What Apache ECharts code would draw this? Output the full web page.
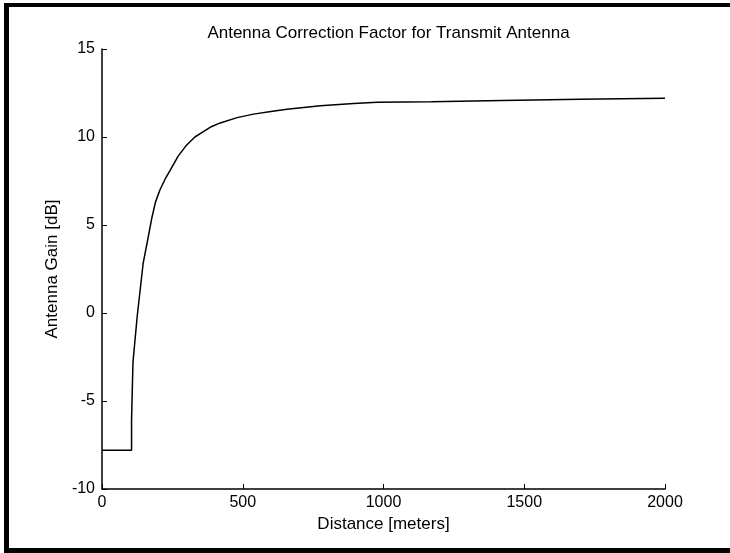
<!DOCTYPE html>
<html>
<head>
<meta charset="utf-8">
<script src="https://cdn.jsdelivr.net/npm/echarts@6/dist/echarts.min.js"></script>
<style>
html,body{margin:0;padding:0;background:#fff;}
#c{width:730px;height:553px;}
</style>
</head>
<body>
<div id="c"></div>
<script>
const titleText = "Antenna Correction Factor for Transmit Antenna";
const xName = "Distance [meters]";
const yName = "Antenna Gain [dB]";
const distance = [0, 105, 105, 110, 125, 146, 164, 177, 190, 206, 224, 242, 270, 301, 330, 360, 390, 420, 480, 538, 600, 657, 776, 894, 978, 1170, 1420, 1700, 2000];
const gain = [-7.8, -7.8, -6.1, -2.8, -0.2, 2.8, 4.3, 5.4, 6.3, 7.0, 7.6, 8.1, 8.9, 9.55, 10.0, 10.3, 10.6, 10.8, 11.1, 11.3, 11.45, 11.57, 11.78, 11.91, 11.97, 12.0, 12.08, 12.15, 12.2];
const xTicks = [0, 500, 1000, 1500, 2000];
const yTicks = [-10, -5, 0, 5, 10, 15];

const data = distance.map((d, i) => [d, gain[i]]);
const font = "'Liberation Sans', Arial, sans-serif";
const chart = echarts.init(document.getElementById('c'), null, {renderer: 'canvas'});
chart.setOption({
  animation: false,
  backgroundColor: '#fff',
  title: {
    text: titleText, left: 383.5, top: 20, textAlign: 'center',
    textStyle: {fontFamily: font, fontSize: 17, fontWeight: 'normal', color: '#000'}
  },
  grid: {left: 102, right: 65, top: 49, bottom: 64, containLabel: false},
  xAxis: {
    type: 'value', min: xTicks[0], max: xTicks[xTicks.length - 1], interval: 500,
    name: xName, nameLocation: 'middle', nameGap: 27,
    nameTextStyle: {fontFamily: font, fontSize: 17, color: '#000'},
    axisLine: {show: true, onZero: false, lineStyle: {color: '#000', width: 1.5}},
    axisTick: {show: true, inside: true, length: 5, lineStyle: {color: '#000'}},
    axisLabel: {fontFamily: font, fontSize: 16, color: '#000', margin: 6, formatter: v => String(v)},
    splitLine: {show: false}
  },
  yAxis: {
    type: 'value', min: yTicks[0], max: yTicks[yTicks.length - 1], interval: 5,
    name: yName, nameLocation: 'middle', nameGap: 30,
    nameTextStyle: {fontFamily: font, fontSize: 17, color: '#000'},
    axisLine: {show: true, onZero: false, lineStyle: {color: '#000', width: 1.5}},
    axisTick: {show: true, inside: true, length: 5, lineStyle: {color: '#000'}},
    axisLabel: {fontFamily: font, fontSize: 16, color: '#000', margin: 7, formatter: v => String(v)},
    splitLine: {show: false}
  },
  series: [{
    type: 'line', data: data, showSymbol: false, symbol: 'none',
    lineStyle: {color: '#000', width: 1.5}
  }],
  graphic: [
    {type: 'rect', shape: {x: 4, y: 3, width: 5, height: 550}, style: {fill: '#000'}, silent: true},
    {type: 'rect', shape: {x: 4, y: 3, width: 726, height: 4}, style: {fill: '#000'}, silent: true},
    {type: 'rect', shape: {x: 4, y: 548, width: 726, height: 5}, style: {fill: '#000'}, silent: true}
  ]
});
</script>
</body>
</html>
